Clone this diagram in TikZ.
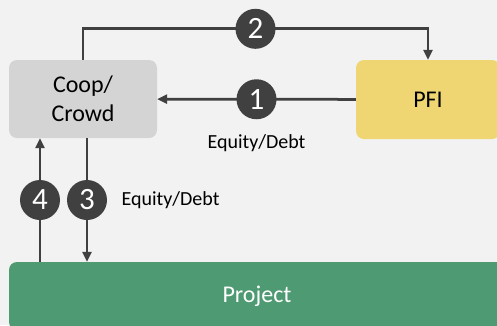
\documentclass[tikz,border=0pt]{standalone}
\usepackage{fontspec}
\setmainfont{Carlito}
\usetikzlibrary{positioning,arrows.meta}

\definecolor{bggray}{HTML}{F2F2F2}
\definecolor{coopgray}{HTML}{D4D4D4}
\definecolor{pfiyellow}{HTML}{F0D673}
\definecolor{projgreen}{HTML}{4E9A72}
\definecolor{flowgray}{HTML}{404040}

\begin{document}
\begin{tikzpicture}[x=1pt, y=-1pt,
    box/.style={rounded corners=8pt, align=center, inner sep=0pt,
      font=\fontsize{24}{29}\selectfont},
    num/.style={circle, fill=flowgray, text=white, inner sep=0pt,
      minimum size=40pt, font=\fontsize{31}{31}\selectfont},
    flow/.style={draw=flowgray, line width=2.75pt,
      -{Triangle[length=10pt,width=9pt]}},
    tag/.style={inner sep=0pt, font=\fontsize{20}{24}\selectfont}]
  \useasboundingbox (0,0) rectangle (497,325);
  \fill[bggray] (0,0) rectangle (497,325);
  \clip (0,0) rectangle (497,325);

  \node[box, fill=coopgray, minimum width=148pt, minimum height=78pt] (coop) at (83,99) {Coop/\\Crowd};
  \node[box, fill=pfiyellow, minimum width=144pt, minimum height=79pt] (pfi) at (428,99.5) {PFI};
  \node[box, fill=projgreen, text=white, minimum width=496pt, minimum height=68pt] (proj) at (257,296) {Project};

  \draw[flow] (pfi) -- node[num] (n1) {1} (coop);
  \node[tag, below=14pt of n1] (eq1) {Equity/Debt};

  \draw[flow] (coop.north) -- ++(0,-31) -| node[num, pos=0.25] (n2) {2} (pfi.north);

  \draw[flow] ([xshift=4pt]coop.south) -- node[num] (n3) {3} ([xshift=4pt]coop.south |- proj.north);
  \draw[flow] ([xshift=-43pt]coop.south |- proj.north) -- node[num] (n4) {4} ([xshift=-43pt]coop.south);
  \node[tag, right=13pt of n3] (eq3) {Equity/Debt};
\end{tikzpicture}
\end{document}
